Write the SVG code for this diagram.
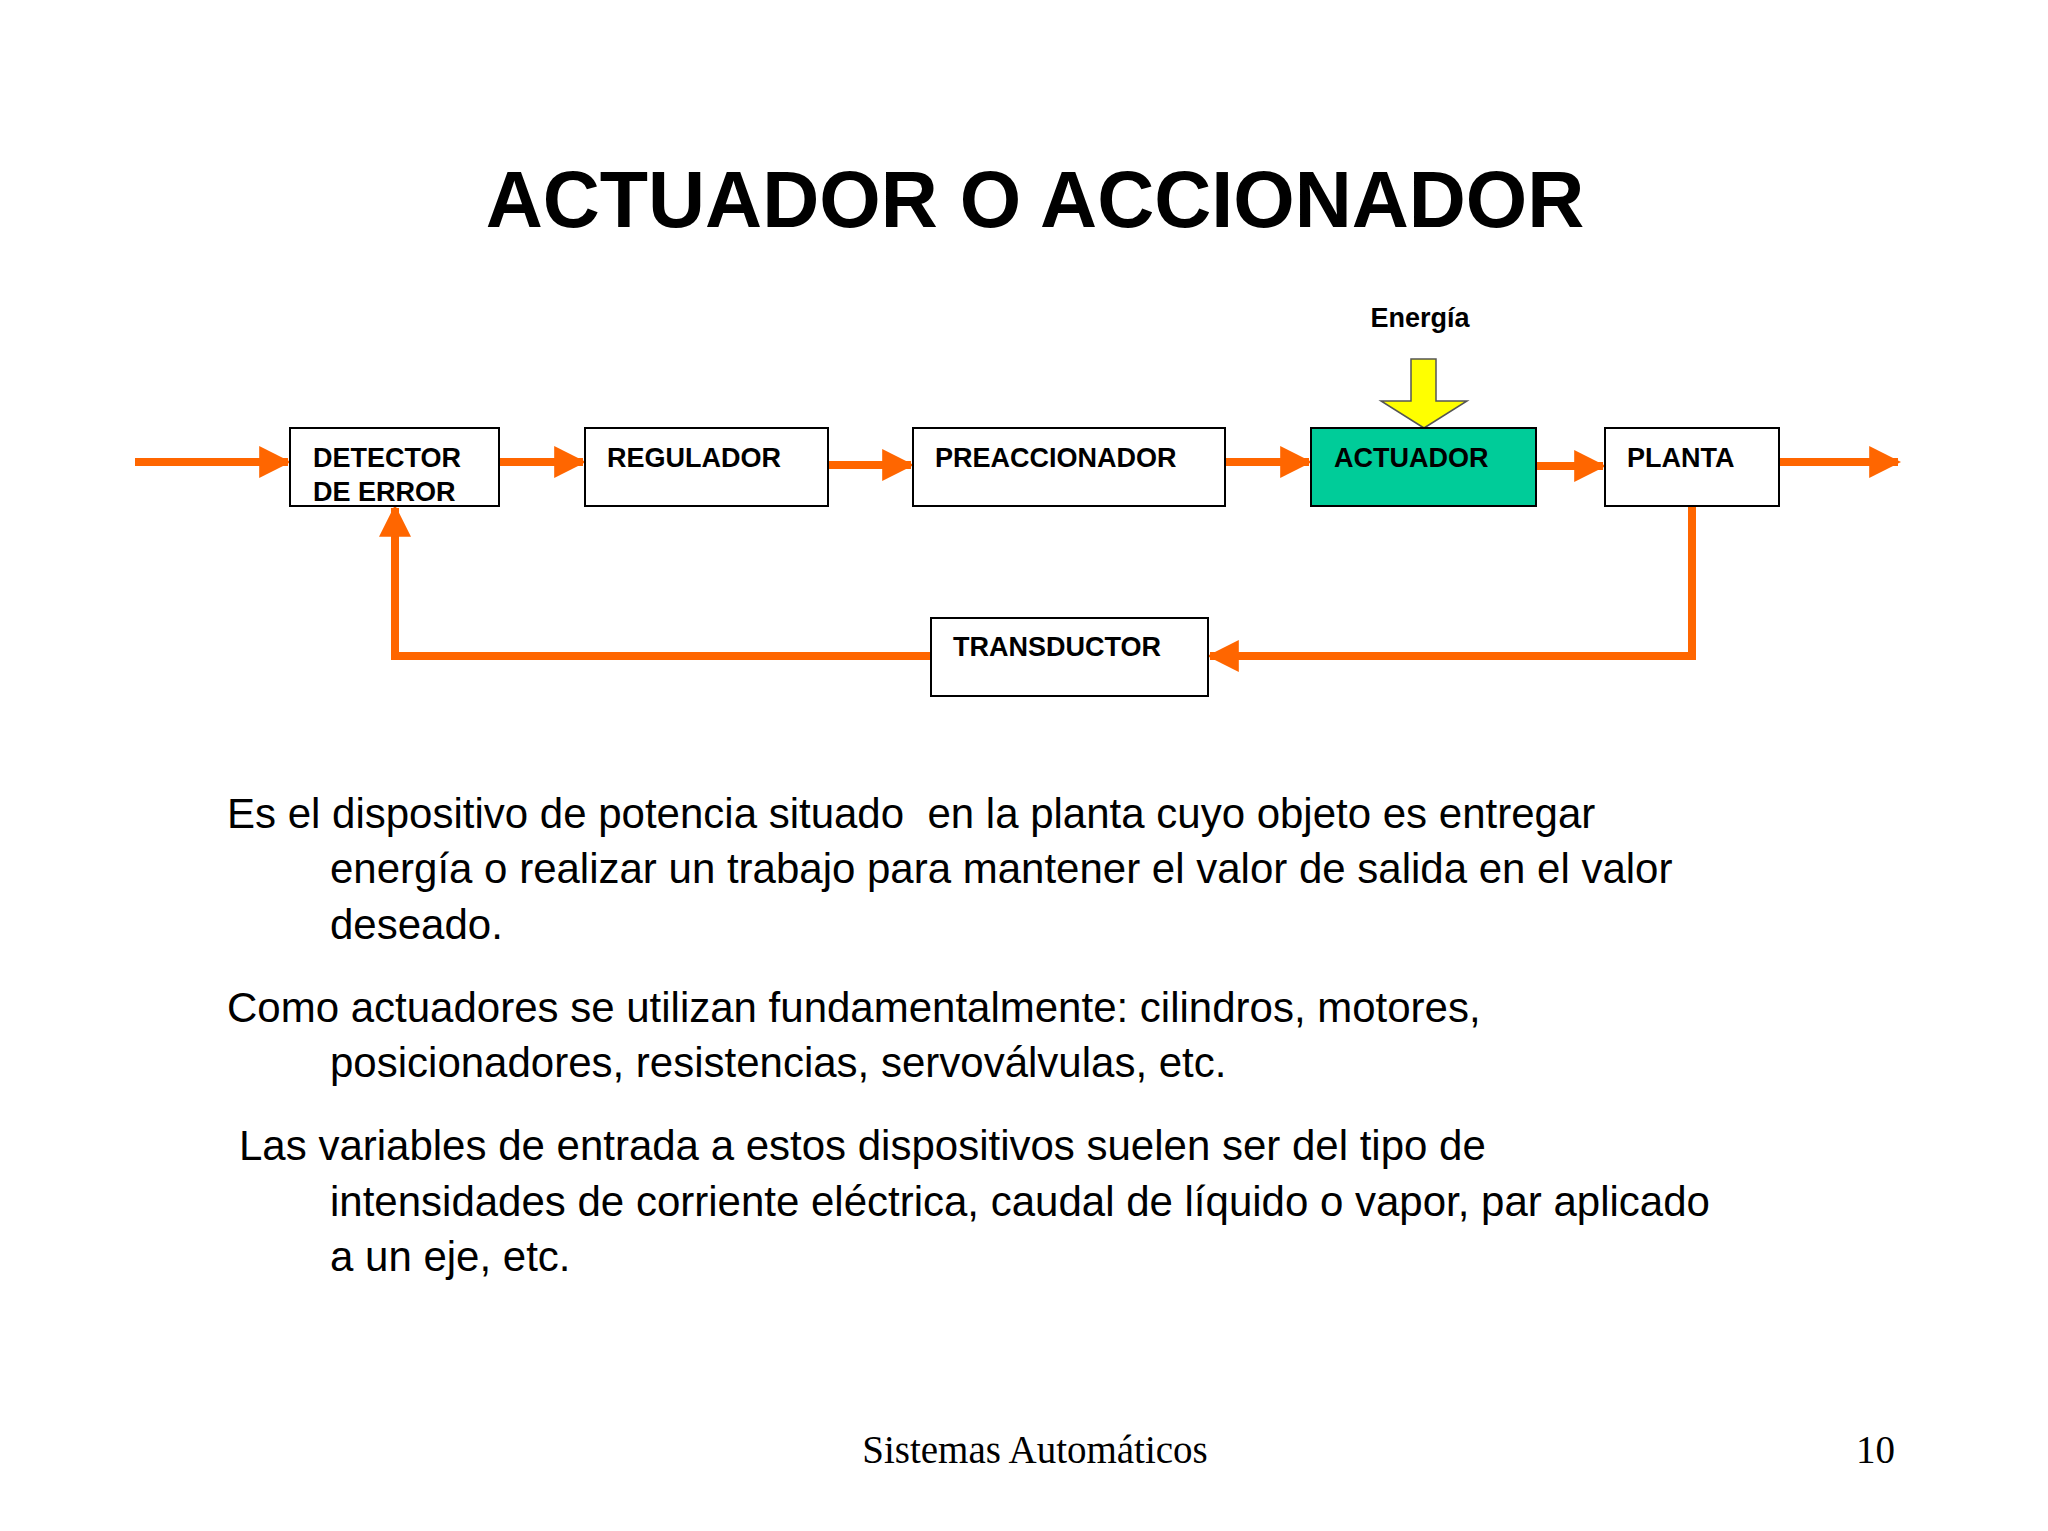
<svg xmlns="http://www.w3.org/2000/svg" width="2048" height="1531" viewBox="0 0 2048 1531">
<style>
.box{fill:#fff;stroke:#000;stroke-width:2}
.lbl{font-family:"Liberation Sans",Arial,sans-serif;font-weight:bold;font-size:27px;fill:#000}
.ln{stroke:#ff6600;stroke-width:8;fill:none}
.body{font-family:"Liberation Sans",Arial,sans-serif;font-size:42px;fill:#000}
.ft{font-family:"Liberation Serif","Times New Roman",serif;font-size:39px;fill:#000}
</style>
<defs>
<marker id="ah" viewBox="0 0 10 10" refX="9" refY="5" markerWidth="4" markerHeight="4" markerUnits="strokeWidth" orient="auto"><path d="M0,0L10,5L0,10z" fill="#ff6600"/></marker>
</defs>
<rect width="2048" height="1531" fill="#fff"/>
<text x="1035" y="227" text-anchor="middle" font-family="'Liberation Sans',Arial,sans-serif" font-weight="bold" font-size="79">ACTUADOR O ACCIONADOR</text>
<g id="connectors">
<path class="ln" marker-end="url(#ah)" d="M135,462H288"/>
<path class="ln" marker-end="url(#ah)" d="M499,462H583"/>
<path class="ln" marker-end="url(#ah)" d="M828,465H911"/>
<path class="ln" marker-end="url(#ah)" d="M1225,462H1309"/>
<path class="ln" marker-end="url(#ah)" d="M1536,466H1603"/>
<path class="ln" marker-end="url(#ah)" d="M1779,462H1898"/>
<path class="ln" marker-end="url(#ah)" d="M1692,506V656H1210"/>
<path class="ln" marker-end="url(#ah)" d="M931,656H395V508"/>
<path d="M1411,359H1436V401H1467L1424,428L1381,401H1411Z" fill="#ffff00" stroke="#555" stroke-width="1.5"/>
</g>
<g id="energia"><text class="lbl" x="1420" y="327" text-anchor="middle">Energía</text></g>
<g id="detector"><rect class="box" x="290" y="428" width="209" height="78"/><text class="lbl" x="313" y="467">DETECTOR</text><text class="lbl" x="313" y="501">DE ERROR</text></g>
<g id="regulador"><rect class="box" x="585" y="428" width="243" height="78"/><text class="lbl" x="607" y="467">REGULADOR</text></g>
<g id="preaccionador"><rect class="box" x="913" y="428" width="312" height="78"/><text class="lbl" x="935" y="467">PREACCIONADOR</text></g>
<g id="actuador"><rect class="box" x="1311" y="428" width="225" height="78" fill="#00cc99" style="fill:#00cc99"/><text class="lbl" x="1334" y="467">ACTUADOR</text></g>
<g id="planta"><rect class="box" x="1605" y="428" width="174" height="78"/><text class="lbl" x="1627" y="467">PLANTA</text></g>
<g id="transductor"><rect class="box" x="931" y="618" width="277" height="78"/><text class="lbl" x="953" y="656">TRANSDUCTOR</text></g>
<g class="body">
<text x="227" y="828" xml:space="preserve">Es el dispositivo de potencia situado  en la planta cuyo objeto es entregar</text>
<text x="330" y="883">energía o realizar un trabajo para mantener el valor de salida en el valor</text>
<text x="330" y="939">deseado.</text>
<text x="227" y="1022">Como actuadores se utilizan fundamentalmente: cilindros, motores,</text>
<text x="330" y="1077">posicionadores, resistencias, servoválvulas, etc.</text>
<text x="239" y="1160">Las variables de entrada a estos dispositivos suelen ser del tipo de</text>
<text x="330" y="1216">intensidades de corriente eléctrica, caudal de líquido o vapor, par aplicado</text>
<text x="330" y="1271">a un eje, etc.</text>
</g>
<text class="ft" x="1035" y="1463" text-anchor="middle">Sistemas Automáticos</text>
<text class="ft" x="1895" y="1463" text-anchor="end">10</text>
</svg>
